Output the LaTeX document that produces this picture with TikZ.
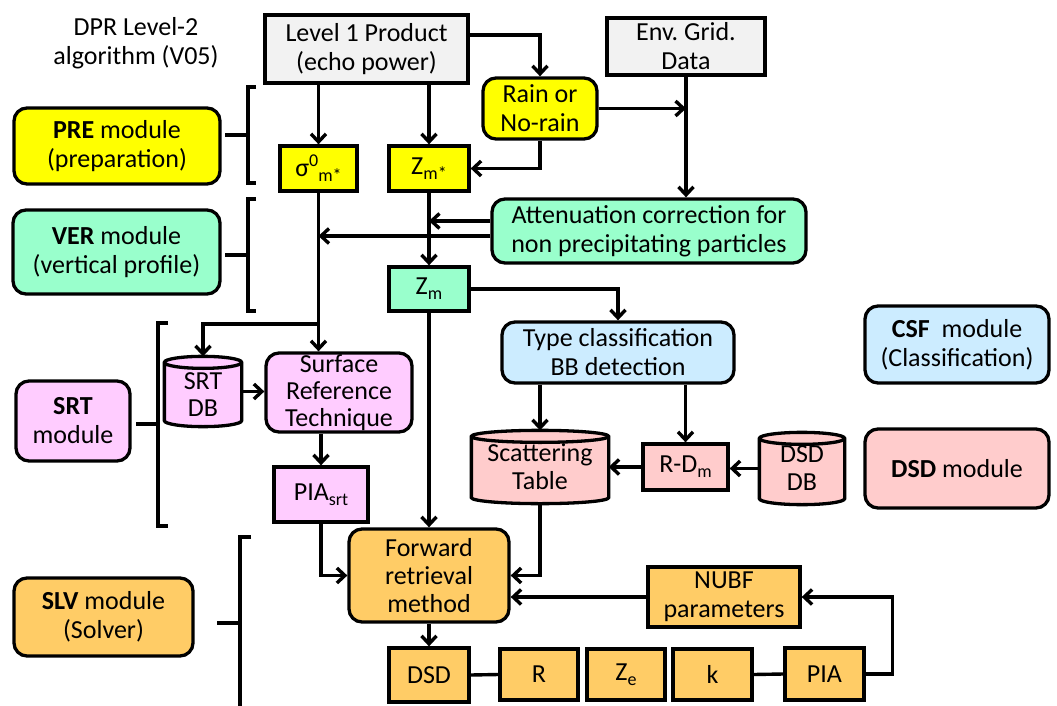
\documentclass[tikz,border=0pt]{standalone}
\usepackage{fontspec}
\setmainfont{Carlito}
\frenchspacing
\usetikzlibrary{arrows.meta,calc,backgrounds}
\definecolor{cgray}{HTML}{F2F2F2}
\definecolor{cyel}{HTML}{FFFF00}
\definecolor{cgreen}{HTML}{99FFCC}
\definecolor{cblue}{HTML}{CCECFF}
\definecolor{cpink}{HTML}{FFCCFF}
\definecolor{cred}{HTML}{FFCCCC}
\definecolor{corange}{HTML}{FFCC66}
\newcommand{\dn}[1]{\raisebox{-5pt}{\fontsize{18}{18}\selectfont #1}}
\newcommand{\upr}[1]{\raisebox{10pt}{\fontsize{18}{18}\selectfont #1}}
\newcommand{\dbcyl}[2]{%
  \draw[line width=3.3pt, fill=#2] let \p1=(#1.north west), \p2=(#1.south east), \n1={(\x2-\x1)/2} in
    (\x1,\y1-6pt) -- (\x1,\y2+6pt) arc[start angle=180, end angle=360, x radius=\n1, y radius=6pt]
    -- (\x2,\y1-6pt) arc[start angle=0, end angle=180, x radius=\n1, y radius=6pt] -- cycle
    (\x1,\y1-6pt) arc[start angle=180, end angle=360, x radius=\n1, y radius=6pt];
}
\begin{document}
\begin{tikzpicture}[x=1pt,y=-1pt, line width=3.4pt,
  every node/.style={font=\fontsize{26}{29}\selectfont, align=center, inner sep=0pt, line width=3.3pt},
  sq/.style={draw, rectangle},
  rnd/.style={draw, rectangle, rounded corners=13pt},
  wh/.style 2 args={minimum width=#1pt, minimum height=#2pt},
  arr/.style={line width=3.4pt, -{Straight Barb[length=8pt,width=15pt]}},
  ln/.style={line width=3.4pt},
]
\useasboundingbox (0,0) rectangle (1057,706);

% title
\node (title) at (136,43) {DPR Level-2\\algorithm (V05)};

% nodes
\node[sq, fill=cgray, wh={203}{68}] (lvl1) at (366.5,49) {Level 1 Product\\(echo power)};
\node[sq, fill=cgray, wh={158}{57}] (env) at (686,46.5) {Env. Grid.\\Data};
\node[rnd, fill=cyel, wh={114}{61}] (rain) at (540,108.5) {Rain or\\No-rain};
\node[sq, fill=cyel, wh={77}{45}] (sig) at (318.5,168.5) {σ\upr{0}\dn{m*}};
\node[sq, fill=cyel, wh={80}{45}] (zms) at (429,168.5) {Z\dn{m*}};
\node[rnd, fill=cyel, wh={206}{76}] (pre) at (117,146) {\textbf{PRE} module\\(preparation)};
\node[rnd, fill=cgreen, wh={207}{84}] (ver) at (116.5,252) {\textbf{VER} module\\(vertical profile)};
\node[rnd, fill=cgreen, wh={314}{64}] (att) at (649,231) {Attenuation correction for\\non precipitating particles};
\node[sq, fill=cgreen, wh={80}{44}] (zm) at (429,289) {Z\dn{m}};
\node[rnd, fill=cblue, wh={232}{61}] (type) at (618,352.5) {Type classification\\BB detection};
\node[rnd, fill=cblue, wh={184}{77}] (csf) at (957,344.5) {\textbf{CSF}\ \ module\\(Classification)};
\node[rnd, fill=cred, wh={184}{79}] (dsdmod) at (957,468.5) {\textbf{DSD} module};
\node[rnd, fill=cpink, wh={114}{80}] (srtmod) at (73,421) {\textbf{SRT}\\module};
\node[wh={74}{67}, font=\fontsize{26}{27}\selectfont] (srtdb) at (203,391.5) {\rule{0pt}{22pt}SRT\\DB};
\node[rnd, fill=cpink, wh={146}{79}, font=\fontsize{26}{27}\selectfont] (srt) at (339,392.5) {Surface\\Reference\\Technique};
\node[sq, fill=cpink, wh={94}{55}] (piasrt) at (321,494.5) {PIA\dn{srt}};
\node[wh={134}{70}, font=\fontsize{26}{28}\selectfont] (scat) at (540,467) {Scattering\\Table};
\node[sq, fill=cred, wh={85}{46}] (rdm) at (685.5,467) {R-D\dn{m}};
\node[wh={82}{69}, font=\fontsize{26}{28}\selectfont] (dsddb) at (802,468.5) {DSD\\DB};
\node[rnd, fill=corange, wh={160}{93}, font=\fontsize{26}{28}\selectfont] (fwd) at (429,575.5) {Forward\\retrieval\\method};
\node[sq, fill=corange, wh={152}{60}] (nubf) at (724,597) {NUBF\\parameters};
\node[sq, fill=corange, wh={80}{54}] (dsd) at (429,675) {DSD};
\node[sq, fill=corange, wh={78}{51}] (r) at (539,674.5) {R};
\node[sq, fill=corange, wh={78}{51}] (ze) at (626,674.5) {Z\dn{e}};
\node[sq, fill=corange, wh={79}{51}] (k) at (712.5,674.5) {k};
\node[sq, fill=corange, wh={79}{52}] (pia) at (824.5,674) {PIA};
\node[rnd, fill=corange, wh={179}{78}] (slvmod) at (103.5,617) {\textbf{SLV} module\\(Solver)};

% cylinders
\begin{pgfonlayer}{background}
\dbcyl{srtdb}{cpink}
\dbcyl{scat}{cred}
\dbcyl{dsddb}{cred}
\end{pgfonlayer}

% brackets
\draw[ln] (225,135) -- (248,135);
\draw[ln] (256,87) -- (248,87) -- (248,183) -- (256,183);
\draw[ln] (225,255) -- (248,255);
\draw[ln] (256,199) -- (248,199) -- (248,311) -- (256,311);
\draw[ln] (136,424) -- (158,424);
\draw[ln] (168,323) -- (158,323) -- (158,526) -- (168,526);
\draw[ln] (217,623) -- (240,623);
\draw[ln] (251,537) -- (240,537) -- (240,708);

% connectors
\draw[arr] (sig.north |- lvl1.south) -- (sig.north);
\draw[arr] (zms.north |- lvl1.south) -- (zms.north);
\draw[arr] ([yshift=14pt]lvl1.east) -| (rain.north);
\draw[arr] (rain.east) -- (rain.east -| env.south);
\draw[arr] (env.south) -- (env.south |- att.north);
\draw[arr] (rain.south) |- (zms.east);
\path ([yshift=10pt]att.west) coordinate (a1);
\path ([yshift=-5pt]att.west) coordinate (a2);
\draw[arr] (a1) -- (a1 -| zms.south);
\draw[arr] (a2) -- (a2 -| sig.south);
\draw[arr] (sig.south) -- (sig.south |- srt.north);
\coordinate (j1) at (318.5,324);
\draw[arr] (j1) -| (srtdb.north);
\draw[arr] (srtdb.east) -- (srtdb.east -| srt.west);
\draw[arr] (piasrt.north |- srt.south) -- (piasrt.north);
\draw[arr] (piasrt.south) |- (fwd.west);
\draw[arr] (zms.south) -- (zm.north);
\draw[arr] (zm.south) -- (fwd.north);
\draw[arr] (zm.east) -| (type.north);
\draw[arr] (type.south -| scat.north) -- (scat.north);
\draw[arr] (type.south -| rdm.north) -- (rdm.north);
\draw[arr] (dsddb.west) -- (dsddb.west -| rdm.east);
\draw[arr] (rdm.west) -- (rdm.west -| scat.east);
\draw[arr] (scat.south) |- (fwd.east);
\draw[arr] (nubf.west) -- (nubf.west -| fwd.east);
\draw[arr] (pia.east) -- ++(27,0) |- (nubf.east);
\draw[arr] (fwd.south) -- (dsd.north);
\draw[ln] (dsd.east) -- (r.west);
\draw[ln] (k.east) -- (pia.west);
\end{tikzpicture}
\end{document}
